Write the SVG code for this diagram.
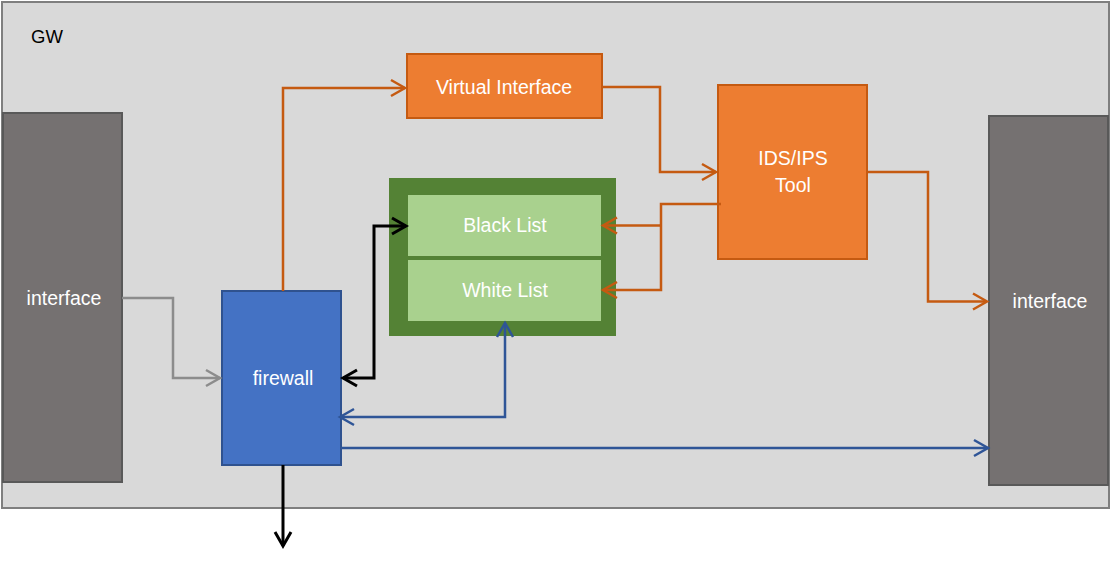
<svg xmlns="http://www.w3.org/2000/svg" width="1111" height="564" viewBox="0 0 1111 564">
<style>
.lbl{font-family:"Liberation Sans",Arial,sans-serif;font-size:19.5px;fill:#ffffff;text-anchor:middle}
.gw{font-family:"Liberation Sans",Arial,sans-serif;font-size:18.5px;fill:#000000}
.iface{fill:#757171;stroke:#595959;stroke-width:2}
.orange{fill:#ed7d31;stroke:#c55a11;stroke-width:2}
.c{fill:none;stroke-linejoin:miter}
.co{stroke:#c55a11;stroke-width:2.5}
.cg{stroke:#8c8c8c;stroke-width:2.5}
.ck{stroke:#000000;stroke-width:3}
.cb{stroke:#2f5597;stroke-width:2.5}
</style>
<defs>
<marker id="ao" markerUnits="userSpaceOnUse" markerWidth="20" markerHeight="20" viewBox="-17 -10 20 20" refX="0" refY="0" orient="auto-start-reverse"><path d="M-14,-8 L0,0 L-14,8" fill="none" stroke="#c55a11" stroke-width="2.5"/></marker>
<marker id="ag" markerUnits="userSpaceOnUse" markerWidth="20" markerHeight="20" viewBox="-17 -10 20 20" refX="0" refY="0" orient="auto-start-reverse"><path d="M-14,-8 L0,0 L-14,8" fill="none" stroke="#8c8c8c" stroke-width="2.5"/></marker>
<marker id="ak" markerUnits="userSpaceOnUse" markerWidth="20" markerHeight="20" viewBox="-17 -10 20 20" refX="0" refY="0" orient="auto-start-reverse"><path d="M-14,-8 L0,0 L-14,8" fill="none" stroke="#000000" stroke-width="3"/></marker>
<marker id="ab" markerUnits="userSpaceOnUse" markerWidth="20" markerHeight="20" viewBox="-17 -10 20 20" refX="0" refY="0" orient="auto-start-reverse"><path d="M-14,-8 L0,0 L-14,8" fill="none" stroke="#2f5597" stroke-width="2.5"/></marker>
</defs>
<rect width="1111" height="564" fill="#ffffff"/>
<g id="gw">
<rect x="2" y="2" width="1107" height="506" fill="#d9d9d9" stroke="#7f7f7f" stroke-width="2"/>
<text class="gw" x="31" y="43">GW</text>
</g>
<g id="interface-left">
<rect class="iface" x="3" y="113" width="119" height="369"/>
<text class="lbl" x="64" y="305">interface</text>
</g>
<g id="interface-right">
<rect class="iface" x="989" y="116" width="119" height="369"/>
<text class="lbl" x="1050" y="308">interface</text>
</g>
<g id="firewall">
<rect x="222" y="291" width="119" height="174" fill="#4472c4" stroke="#2f528f" stroke-width="2"/>
<text class="lbl" x="283" y="385">firewall</text>
</g>
<g id="virtual-interface">
<rect class="orange" x="407" y="54" width="195" height="64"/>
<text class="lbl" x="504" y="94">Virtual Interface</text>
</g>
<g id="ids-ips">
<rect class="orange" x="718" y="85" width="149" height="174"/>
<text class="lbl" x="793" y="165">IDS/IPS</text>
<text class="lbl" x="793" y="192">Tool</text>
</g>
<g id="lists">
<rect x="389" y="178" width="227" height="158" fill="#548235"/>
<g id="black-list">
<rect x="408" y="195" width="193" height="61" fill="#a9d18e"/>
<text class="lbl" x="505" y="232">Black List</text>
</g>
<g id="white-list">
<rect x="408" y="260" width="193" height="61" fill="#a9d18e"/>
<text class="lbl" x="505" y="297">White List</text>
</g>
</g>
<g id="connectors">
<path class="c cg" d="M122,298 H173 V378 H220" marker-end="url(#ag)"/>
<path class="c co" d="M283,291 V88 H405" marker-end="url(#ao)"/>
<path class="c co" d="M602,87 H660 V172 H716" marker-end="url(#ao)"/>
<path class="c co" d="M721,204 H661 V290 H603" marker-end="url(#ao)"/>
<path class="c co" d="M661,225.5 H603" marker-end="url(#ao)"/>
<path class="c co" d="M867,172 H928 V301.5 H987" marker-end="url(#ao)"/>
<path class="c ck" d="M343,378 H374 V226 H406" marker-start="url(#ak)" marker-end="url(#ak)"/>
<path class="c cb" d="M505,323 V417 H340" marker-start="url(#ab)" marker-end="url(#ab)"/>
<path class="c cb" d="M341,448 H988" marker-end="url(#ab)"/>
<path class="c ck" d="M283,465 V546" marker-end="url(#ak)"/>
</g>
</svg>
